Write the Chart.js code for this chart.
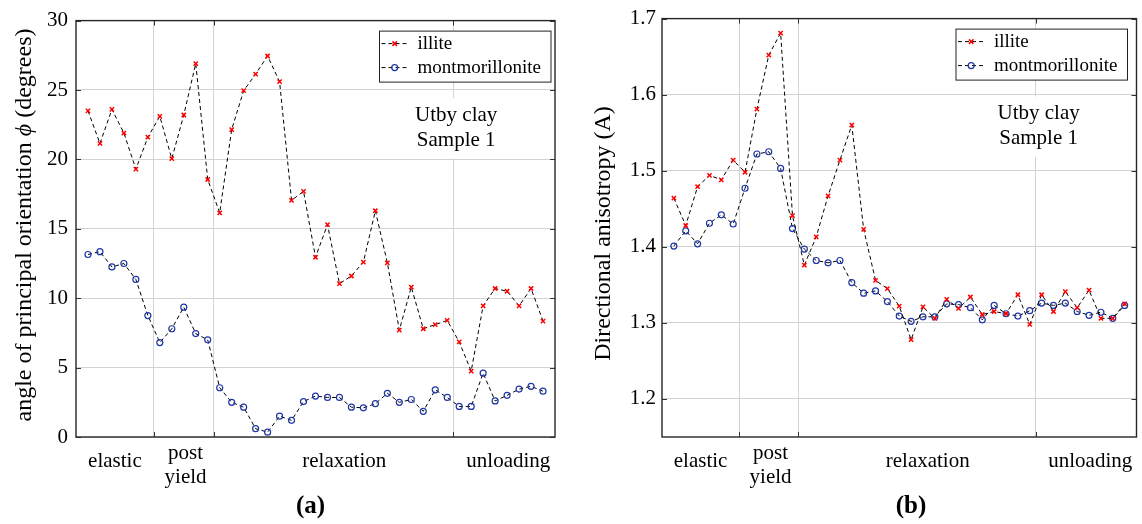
<!DOCTYPE html>
<html lang="en">
<head>
<meta charset="UTF-8">
<title>Utby clay - sample 1</title>
<script src="https://cdn.jsdelivr.net/npm/chart.js"></script>
<style>
  body { margin: 0; background: #fff; }
  #wrap { position: relative; width: 1142px; height: 524px; }
  canvas { position: absolute; top: 0; }
  #chartA { left: 0; }
  #chartB { left: 571px; }
</style>
</head>
<body>
<div id="wrap">
  <canvas id="chartA" width="571" height="524"></canvas>
  <canvas id="chartB" width="571" height="524"></canvas>
</div>
<script>
// load steps along the test
const steps = [1, 2, 3, 4, 5, 6, 7, 8, 9, 10, 11, 12, 13, 14, 15, 16, 17, 18, 19, 20,
  21, 22, 23, 24, 25, 26, 27, 28, 29, 30, 31, 32, 33, 34, 35, 36, 37, 38, 39];

const seriesNames = ['illite', 'montmorillonite'];

// principal orientation (degrees)
const angleIllite = [23.5, 21.15, 23.6, 21.9, 19.3, 21.6, 23.1, 20.05, 23.2, 26.9,
  18.55, 16.15, 22.15, 24.95, 26.15, 27.45, 25.6, 17.05, 17.7, 12.95,
  15.3, 11.05, 11.6, 12.6, 16.3, 12.55, 7.7, 10.8, 7.8, 8.1,
  8.4, 6.85, 4.75, 9.45, 10.7, 10.5, 9.45, 10.7, 8.35];
const angleMont = [13.15, 13.35, 12.25, 12.5, 11.35, 8.75, 6.8, 7.8, 9.35, 7.45,
  7.0, 3.55, 2.5, 2.15, 0.6, 0.35, 1.5, 1.2, 2.55, 2.95,
  2.85, 2.85, 2.15, 2.1, 2.4, 3.15, 2.5, 2.7, 1.85, 3.4,
  2.85, 2.2, 2.2, 4.6, 2.6, 3.0, 3.45, 3.65, 3.3];

// directional anisotropy A
const anisoIllite = [1.464, 1.428, 1.479, 1.494, 1.488, 1.514, 1.498, 1.581, 1.652, 1.681,
  1.441, 1.376, 1.413, 1.467, 1.514, 1.560, 1.423, 1.356, 1.345, 1.322,
  1.278, 1.321, 1.306, 1.331, 1.319, 1.334, 1.311, 1.315, 1.312, 1.337,
  1.298, 1.337, 1.315, 1.341, 1.320, 1.343, 1.306, 1.306, 1.325];
const anisoMont = [1.401, 1.421, 1.404, 1.431, 1.442, 1.430, 1.477, 1.522, 1.525, 1.503,
  1.424, 1.397, 1.382, 1.379, 1.382, 1.353, 1.339, 1.342, 1.328, 1.309,
  1.302, 1.308, 1.308, 1.325, 1.324, 1.320, 1.304, 1.323, 1.312, 1.309,
  1.316, 1.326, 1.323, 1.326, 1.315, 1.310, 1.314, 1.306, 1.323];

// loading phases: boundaries and label positions (in steps)
const phaseBounds = [6.5, 11.5, 31.5];
const phaseNames = [['elastic'], ['post', 'yield'], ['relaxation'], ['unloading']];
const phaseAt = [3.25, 9.15, 22.4, 36.1];

const angleTicks = [0, 5, 10, 15, 20, 25, 30];
const anisoTicks = [1.2, 1.3, 1.4, 1.5, 1.6, 1.7];

const noteLines = ['Utby clay', 'Sample 1'];

const SERIF = '"Liberation Serif", "Times New Roman", serif';

// draw one legend/plot marker by hand (open circle or x)
function marker(ctx, style, x, y, r, color, width) {
  ctx.save();
  ctx.setLineDash([]);
  ctx.strokeStyle = color;
  ctx.lineWidth = width;
  ctx.beginPath();
  if (style === 'circle') {
    ctx.arc(x, y, r, 0, Math.PI * 2);
  } else {
    const d = r * 0.75;
    ctx.moveTo(x - d, y - d); ctx.lineTo(x + d, y + d);
    ctx.moveTo(x - d, y + d); ctx.lineTo(x + d, y - d);
  }
  ctx.stroke();
  ctx.restore();
}

// MATLAB-like dressing: boxed axes, inward ticks, legend, text note, phase labels
const figureDecor = {
  id: 'figureDecor',
  beforeDatasetsDraw(chart, args, o) {
    const ctx = chart.ctx, xs = chart.scales.x, ys = chart.scales.y;
    ctx.save();
    ctx.font = '21px ' + SERIF;
    const cx = xs.getPixelForValue(o.noteX);
    const b1 = ys.getPixelForValue(o.noteY[0]);
    const b2 = ys.getPixelForValue(o.noteY[1]);
    const w = Math.max(...noteLines.map(t => ctx.measureText(t).width)) + 16;
    ctx.fillStyle = '#fff';
    ctx.fillRect(cx - w / 2, b1 - 23, w, b2 - b1 + 36);
    ctx.fillStyle = '#000';
    ctx.textAlign = 'center';
    ctx.textBaseline = 'alphabetic';
    ctx.fillText(noteLines[0], cx, b1);
    ctx.fillText(noteLines[1], cx, b2);
    ctx.restore();
  },
  afterDraw(chart, args, o) {
    const ctx = chart.ctx, xs = chart.scales.x, ys = chart.scales.y;
    const a = chart.chartArea;
    ctx.save();

    // inward tick marks
    ctx.strokeStyle = '#333';
    ctx.lineWidth = 1;
    ctx.beginPath();
    o.yTicks.forEach(v => {
      const py = Math.round(ys.getPixelForValue(v)) + 0.5;
      ctx.moveTo(a.left, py); ctx.lineTo(a.left + 5, py);
      ctx.moveTo(a.right, py); ctx.lineTo(a.right - 5, py);
    });
    phaseBounds.forEach(v => {
      const px = Math.round(xs.getPixelForValue(v)) + 0.5;
      ctx.moveTo(px, a.bottom); ctx.lineTo(px, a.bottom - 5);
      ctx.moveTo(px, a.top); ctx.lineTo(px, a.top + 5);
    });
    ctx.stroke();

    // axes box
    ctx.strokeStyle = '#262626';
    ctx.lineWidth = 1.4;
    ctx.strokeRect(a.left, a.top, a.right - a.left, a.bottom - a.top);

    // phase labels under the axis
    ctx.fillStyle = '#000';
    ctx.font = '21px ' + SERIF;
    ctx.textAlign = 'center';
    ctx.textBaseline = 'middle';
    phaseNames.forEach((lines, i) => {
      const px = xs.getPixelForValue(phaseAt[i]);
      if (lines.length === 1) {
        ctx.fillText(lines[0], px, a.bottom + 24);
      } else {
        lines.forEach((t, k) => ctx.fillText(t, px, a.bottom + 16.5 + k * 23.5));
      }
    });

    // y axis title, rotated, with optional italic symbol
    ctx.save();
    ctx.translate(a.left - o.titleGap, o.titleY);
    ctx.rotate(-Math.PI / 2);
    ctx.textAlign = 'left';
    ctx.textBaseline = 'middle';
    const fonts = o.title.map(p => (p.italic ? 'italic ' : '') + '24px ' + SERIF);
    let total = 0;
    o.title.forEach((p, i) => { ctx.font = fonts[i]; total += ctx.measureText(p.text).width; });
    let tx = -total / 2;
    o.title.forEach((p, i) => {
      ctx.font = fonts[i];
      ctx.fillText(p.text, tx, 0);
      tx += ctx.measureText(p.text).width;
    });
    ctx.restore();

    // legend
    const lw = 171.5, lh = 51;
    const lx = a.right - o.legendGap - lw, ly = a.top + 10;
    ctx.fillStyle = '#fff';
    ctx.fillRect(lx, ly, lw, lh);
    ctx.strokeStyle = '#222';
    ctx.lineWidth = 1;
    ctx.strokeRect(lx + 0.5, ly + 0.5, lw, lh);
    chart.data.datasets.forEach((ds, i) => {
      const ry = ly + 13 + i * 24;
      ctx.save();
      ctx.strokeStyle = '#000';
      ctx.lineWidth = 1;
      ctx.setLineDash([4, 3]);
      ctx.beginPath();
      ctx.moveTo(lx + 2.5, ry); ctx.lineTo(lx + 29, ry);
      ctx.stroke();
      ctx.restore();
      marker(ctx, ds.pointStyle, lx + 15.7, ry, ds.pointRadius, ds.pointBorderColor, ds.pointBorderWidth);
      ctx.fillStyle = '#000';
      ctx.font = '19px ' + SERIF;
      ctx.textAlign = 'left';
      ctx.textBaseline = 'middle';
      ctx.fillText(ds.label, lx + 38.4, ry);
    });

    // panel caption
    ctx.fillStyle = '#000';
    ctx.font = 'bold 25px ' + SERIF;
    ctx.textAlign = 'center';
    ctx.textBaseline = 'alphabetic';
    ctx.fillText(o.caption, o.captionX, 513);

    ctx.restore();
  }
};

function buildPanel(id, cfg) {
  const pts = vals => steps.map((s, i) => ({ x: s, y: vals[i] }));
  return new Chart(document.getElementById(id), {
    type: 'line',
    data: {
      datasets: [{
        label: seriesNames[0],
        data: pts(cfg.illite),
        borderColor: '#000',
        borderWidth: 1,
        borderDash: [4, 3],
        pointStyle: 'crossRot',
        pointRadius: 3,
        pointBorderWidth: 1.5,
        pointBorderColor: '#ff0000',
        pointBackgroundColor: '#ff0000'
      }, {
        label: seriesNames[1],
        data: pts(cfg.mont),
        borderColor: '#000',
        borderWidth: 1,
        borderDash: [4, 3],
        pointStyle: 'circle',
        pointRadius: 3,
        pointBorderWidth: 1.2,
        pointBorderColor: '#1f36a6',
        pointBackgroundColor: 'rgba(0,0,0,0)'
      }]
    },
    options: {
      responsive: false,
      animation: false,
      layout: { padding: { left: 0, top: 16, right: cfg.padRight, bottom: 87 } },
      plugins: {
        legend: { display: false },
        tooltip: { enabled: false },
        figureDecor: {
          yTicks: cfg.yTicks,
          noteX: 31.75,
          noteY: cfg.noteY,
          title: cfg.title,
          titleGap: cfg.titleGap,
          titleY: cfg.titleY,
          legendGap: cfg.legendGap,
          caption: cfg.caption,
          captionX: cfg.captionX
        }
      },
      scales: {
        x: {
          type: 'linear',
          min: 0,
          max: 40,
          afterBuildTicks: s => { s.ticks = phaseBounds.map(v => ({ value: v })); },
          afterFit: s => { s.height = 0; },
          ticks: { display: false },
          grid: { color: '#d3d3d3', lineWidth: 1, drawTicks: false },
          border: { display: false }
        },
        y: {
          min: cfg.yMin,
          max: cfg.yMax,
          afterBuildTicks: s => { s.ticks = cfg.yTicks.map(v => ({ value: v })); },
          afterFit: s => { s.width = cfg.axisWidth; },
          ticks: {
            color: '#000',
            padding: cfg.tickPad,
            font: { family: SERIF, size: 21 },
            callback: v => cfg.fmt(v)
          },
          grid: { color: '#d3d3d3', lineWidth: 1, drawTicks: false },
          border: { display: false }
        }
      }
    },
    plugins: [figureDecor]
  });
}

buildPanel('chartA', {
  illite: angleIllite,
  mont: angleMont,
  yMin: 0, yMax: 30,
  yTicks: angleTicks,
  fmt: v => String(v),
  axisWidth: 76,
  padRight: 16,
  tickPad: 8,
  noteY: [22.76, 21.0],
  title: [
    { text: 'angle of principal orientation ' },
    { text: 'ϕ', italic: true },
    { text: ' (degrees)' }
  ],
  titleGap: 51.5,
  titleY: 225,
  legendGap: 4.5,
  caption: '(a)',
  captionX: 310.5
});

buildPanel('chartB', {
  illite: anisoIllite,
  mont: anisoMont,
  yMin: 1.15, yMax: 1.7,
  yTicks: anisoTicks,
  fmt: v => v.toFixed(1),
  axisWidth: 91,
  padRight: 1,
  tickPad: 6,
  noteY: [1.5674, 1.5353],
  title: [{ text: 'Directional anisotropy (A)' }],
  titleGap: 58,
  titleY: 233.5,
  legendGap: 9.5,
  caption: '(b)',
  captionX: 340
});
</script>
</body>
</html>
